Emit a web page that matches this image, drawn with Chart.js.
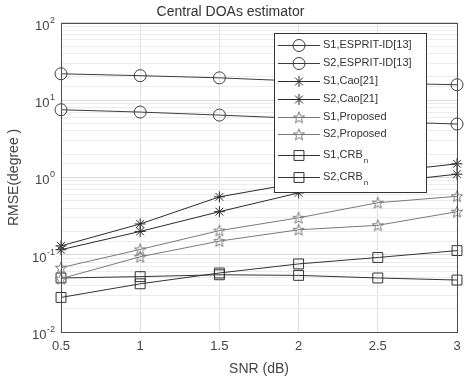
<!DOCTYPE html>
<html>
<head>
<meta charset="utf-8">
<script src="https://cdn.jsdelivr.net/npm/chart.js@4/dist/chart.umd.min.js"></script>
<style>
  html, body { margin: 0; padding: 0; background: #fff; }
  #wrap { width: 465px; height: 387px; }
</style>
</head>
<body>
<div id="wrap"><canvas id="c" width="465" height="387"></canvas></div>
<script>
// SNR values (dB)
const snr = [0.5, 1, 1.5, 2, 2.5, 3];

// RMSE (degree)
const espritS1 = [21.9, 20.7, 19.4, 17.6, 16.6, 15.8];
const espritS2 = [7.5, 7.0, 6.4, 5.8, 5.3, 4.9];
const caoS1 = [0.13, 0.25, 0.56, 0.85, 1.15, 1.5];
const caoS2 = [0.116, 0.20, 0.36, 0.63, 0.85, 1.1];
const propS1 = [0.068, 0.117, 0.205, 0.30, 0.47, 0.57];
const propS2 = [0.049, 0.094, 0.15, 0.21, 0.24, 0.36];
const crbS1 = [0.028, 0.042, 0.058, 0.076, 0.092, 0.113];
const crbS2 = [0.050, 0.052, 0.055, 0.054, 0.050, 0.047];

const labels = ["S1,ESPRIT-ID[13]", "S2,ESPRIT-ID[13]", "S1,Cao[21]", "S2,Cao[21]",
  "S1,Proposed", "S2,Proposed", "S1,CRB", "S2,CRB"];
const yTicks = [100, 10, 1, 0.1, 0.01];
const yExp = ["2", "1", "0", "-1", "-2"];

// five point star marker
function makeStar(color) {
  const cv = document.createElement("canvas");
  cv.width = 14; cv.height = 14;
  const g = cv.getContext("2d");
  g.strokeStyle = color;
  g.lineWidth = 1;
  g.beginPath();
  for (let i = 0; i < 10; i++) {
    const r = i % 2 == 0 ? 6 : 2.6;
    const a = -Math.PI / 2 + i * Math.PI / 5;
    const px = 7 + r * Math.cos(a), py = 7.5 + r * Math.sin(a);
    if (i == 0) g.moveTo(px, py); else g.lineTo(px, py);
  }
  g.closePath();
  g.stroke();
  return cv;
}
const starImg = makeStar("#7a7a7a");

function ds(label, data, color, style, radius) {
  return {
    label: label, data: data,
    borderColor: color, backgroundColor: "rgba(0,0,0,0)",
    borderWidth: 1, pointBorderWidth: 1,
    pointStyle: style, pointRadius: radius, pointHoverRadius: radius,
    tension: 0, clip: false
  };
}

const datasets = [
  ds(labels[0], espritS1, "#3c3c3c", "circle", 6),
  ds(labels[1], espritS2, "#3c3c3c", "circle", 6),
  ds(labels[2], caoS1, "#2a2a2a", "star", 5.5),
  ds(labels[3], caoS2, "#2a2a2a", "star", 5.5),
  ds(labels[4], propS1, "#7a7a7a", starImg, 6),
  ds(labels[5], propS2, "#7a7a7a", starImg, 6),
  ds(labels[6], crbS1, "#333333", "rect", 7),
  ds(labels[7], crbS2, "#333333", "rect", 7)
];

const font = "'Liberation Sans', Arial, sans-serif";

function marker(ctx, style, x, y, r) {
  ctx.beginPath();
  if (style == "circle") {
    ctx.arc(x, y, r, 0, Math.PI * 2);
  } else if (style == "rect") {
    const s = r * Math.SQRT1_2;
    ctx.rect(x - s, y - s, 2 * s, 2 * s);
  } else if (style == "star") {
    for (let k = 0; k < 4; k++) {
      const a = k * Math.PI / 4;
      ctx.moveTo(x - r * Math.cos(a), y - r * Math.sin(a));
      ctx.lineTo(x + r * Math.cos(a), y + r * Math.sin(a));
    }
  } else {
    ctx.drawImage(style, x - 7, y - 7);
    return;
  }
  ctx.stroke();
}

const boxPlugin = {
  id: "box",
  afterDraw(chart) {
    const ctx = chart.ctx, a = chart.chartArea;
    ctx.save();
    ctx.strokeStyle = "#4d4d4d";
    ctx.lineWidth = 1;
    ctx.strokeRect(Math.round(a.left) + 0.5, Math.round(a.top) + 0.5,
      Math.round(a.right - a.left), Math.round(a.bottom - a.top));

    // y tick labels 10^n
    const ys = chart.scales.y;
    ctx.fillStyle = "#444";
    ctx.textAlign = "left";
    ctx.textBaseline = "alphabetic";
    yTicks.forEach(function (v, i) {
      const py = ys.getPixelForValue(v);
      ctx.font = "9px " + font;
      const ew = ctx.measureText(yExp[i]).width;
      ctx.font = "13px " + font;
      const bw = ctx.measureText("10").width;
      const ex = 55 - ew;
      ctx.fillText("10", ex - bw - 0.5, py + 7);
      ctx.font = "9px " + font;
      ctx.fillText(yExp[i], ex, py);
    });

    // legend
    const lx = 274, ly = 33, lw = 152, lh = 159;
    ctx.fillStyle = "#fff";
    ctx.fillRect(lx, ly, lw, lh);
    ctx.strokeStyle = "#333";
    ctx.strokeRect(lx + 0.5, ly + 0.5, lw, lh);
    const rows = [45, 63, 81, 99, 117, 134, 155, 177];
    ctx.font = "11px " + font;
    ctx.textBaseline = "middle";
    datasets.forEach(function (d, i) {
      const y = rows[i] + 0.5;
      ctx.strokeStyle = d.borderColor;
      ctx.beginPath();
      ctx.moveTo(278, y);
      ctx.lineTo(320, y);
      ctx.stroke();
      marker(ctx, d.pointStyle, 299, y, d.pointRadius);
      ctx.fillStyle = "#333";
      ctx.fillText(d.label, 323, rows[i]);
      if (i >= 6) {
        const w = ctx.measureText(d.label).width;
        ctx.font = "8px " + font;
        ctx.fillText("n", 323 + w + 1, rows[i] + 6);
        ctx.font = "11px " + font;
      }
    });
    ctx.restore();
  }
};

new Chart(document.getElementById("c"), {
  type: "line",
  data: { labels: snr, datasets: datasets },
  plugins: [boxPlugin],
  options: {
    responsive: false,
    animation: false,
    layout: { padding: { left: 0, right: 4, top: 0, bottom: 0 } },
    plugins: {
      legend: { display: false },
      tooltip: { enabled: false },
      title: {
        display: true, text: "Central DOAs estimator", color: "#333",
        font: { family: font, size: 14, weight: "normal" },
        padding: { top: 4, bottom: 2 }
      }
    },
    scales: {
      x: {
        type: "linear", min: 0.5, max: 3,
        ticks: {
          stepSize: 0.5, color: "#444", padding: 7, font: { family: font, size: 13 },
          callback: function (v) { return String(v); }
        },
        grid: { color: "#e1e1e1", drawTicks: false },
        border: { display: false },
        title: { display: true, text: "SNR (dB)", color: "#444", font: { family: font, size: 14 }, padding: { top: 0, bottom: 9 } },
        afterFit: function (s) { s.height = 55; s.paddingRight = 0; s.paddingLeft = 0; }
      },
      y: {
        type: "logarithmic", min: 0.01, max: 100,
        ticks: {
          autoSkip: false, color: "#444", padding: 5, font: { family: font, size: 13 },
          callback: function () { return ""; }
        },
        grid: {
          drawTicks: false,
          color: function (c) {
            const l = Math.log10(c.tick.value);
            return Math.abs(l - Math.round(l)) < 1e-6 ? "#d9d9d9" : "#ececec";
          }
        },
        border: { display: false },
        title: { display: true, text: "RMSE(degree )", color: "#444", font: { family: font, size: 14 }, padding: { top: 6, bottom: 0 } },
        afterFit: function (s) { s.width = 61; }
      }
    }
  }
});
</script>
</body>
</html>
